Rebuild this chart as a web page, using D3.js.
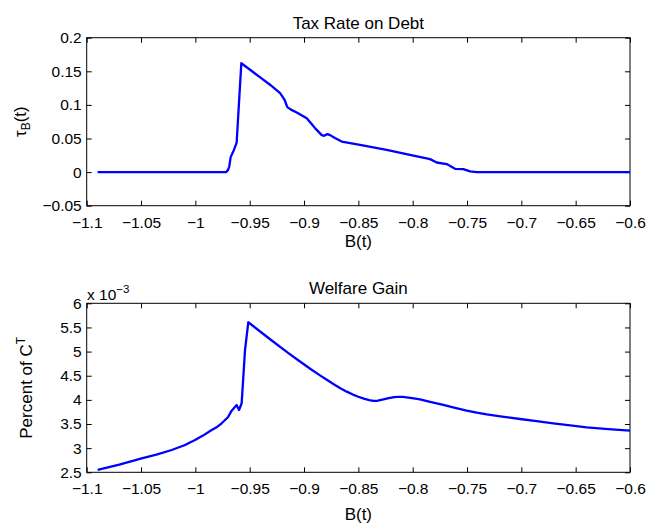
<!DOCTYPE html>
<html>
<head>
<meta charset="utf-8">
<script src="https://cdn.jsdelivr.net/npm/d3@7"></script>
<style>
  html, body { margin: 0; padding: 0; background: #fff; }
  svg { display: block; font-family: "Liberation Sans", Arial, Helvetica, sans-serif; }
  .tick text { font-size: 15.5px; fill: #000; }
  .tick line { stroke: #000; }
</style>
</head>
<body>
<svg id="chart" width="647" height="523"></svg>
<script>
// Debt level B(t) and the optimal tax rate on debt tau_B(t)
const debtB = [-1.09, -0.9718, -0.9700, -0.9688, -0.9675, -0.9645, -0.9620, -0.9577, -0.9500, -0.9400,
  -0.9313, -0.9220, -0.9180, -0.9154, -0.9120, -0.9067, -0.8975, -0.8899, -0.8837, -0.8815,
  -0.8785, -0.8760, -0.8715, -0.8653, -0.8485, -0.8240, -0.8025, -0.7840, -0.7779, -0.7687,
  -0.7610, -0.7534, -0.7472, -0.7410, -0.60];
const taxRate = [0, 0, 0.003, 0.0083, 0.0223, 0.033, 0.044, 0.162, 0.1527, 0.1405,
  0.130, 0.1175, 0.108, 0.0967, 0.093, 0.0887, 0.080, 0.0655, 0.055, 0.054,
  0.0565, 0.055, 0.0506, 0.0455, 0.0406, 0.0332, 0.0257, 0.0193, 0.0143, 0.0119,
  0.0049, 0.0045, 0.001, 0, 0];

// Welfare gain, percent of C^T (in units of 10^-3)
const welfareB = [-1.0899, -1.0700, -1.0494, -1.0350, -1.0218, -1.0100, -1.0003, -0.9930, -0.9850, -0.9800,
  -0.9758, -0.9700, -0.9666, -0.9620, -0.9598, -0.9574, -0.9543, -0.9513, -0.9300, -0.9150,
  -0.9037, -0.8940, -0.8853, -0.8790, -0.8730, -0.8670, -0.8607, -0.8550, -0.8500, -0.8450,
  -0.8400, -0.8362, -0.8320, -0.8270, -0.8220, -0.8170, -0.8132, -0.8090, -0.8040, -0.7990,
  -0.7933, -0.7830, -0.7718, -0.7610, -0.7503, -0.7410, -0.7319, -0.7160, -0.7012, -0.6860,
  -0.6706, -0.6550, -0.6399, -0.6200, -0.60];
const welfareGain = [2.548, 2.66, 2.79, 2.87, 2.962, 3.06, 3.169, 3.26, 3.376, 3.44,
  3.515, 3.64, 3.776, 3.894, 3.79, 3.93, 5.03, 5.607, 5.235, 4.98,
  4.795, 4.64, 4.508, 4.415, 4.33, 4.245, 4.17, 4.11, 4.065, 4.025,
  3.995, 3.978, 3.982, 4.008, 4.038, 4.058, 4.064, 4.06, 4.048, 4.032,
  4.012, 3.955, 3.894, 3.833, 3.776, 3.735, 3.701, 3.65, 3.604, 3.56,
  3.515, 3.472, 3.432, 3.395, 3.362];

// Tick values and labels
const xTicks = [-1.1, -1.05, -1, -0.95, -0.9, -0.85, -0.8, -0.75, -0.7, -0.65, -0.6];
const xTickLabels = ["\u22121.1", "\u22121.05", "\u22121", "\u22120.95", "\u22120.9", "\u22120.85",
  "\u22120.8", "\u22120.75", "\u22120.7", "\u22120.65", "\u22120.6"];
const taxTicks = [-0.05, 0, 0.05, 0.1, 0.15, 0.2];
const taxTickLabels = ["\u22120.05", "0", "0.05", "0.1", "0.15", "0.2"];
const welfareTicks = [2.5, 3, 3.5, 4, 4.5, 5, 5.5, 6];
const welfareTickLabels = ["2.5", "3", "3.5", "4", "4.5", "5", "5.5", "6"];

const svg = d3.select("#chart");
const left = 86.7, right = 630;

function panel(cfg) {
  const x = d3.scaleLinear().domain([-1.1, -0.6]).range([left, right]);
  const y = d3.scaleLinear().domain(cfg.yDomain).range([cfg.bottom, cfg.top]);
  const g = svg.append("g");
  const tk = 5;

  g.append("g").attr("transform", `translate(0,${cfg.bottom})`)
    .call(d3.axisBottom(x).tickValues(xTicks).tickSizeInner(-tk).tickSizeOuter(0).tickPadding(11)
      .tickFormat((d, i) => xTickLabels[i]))
    .call(a => a.select(".domain").remove());
  g.append("g").attr("transform", `translate(0,${cfg.top})`)
    .call(d3.axisTop(x).tickValues(xTicks).tickSizeInner(-tk).tickSizeOuter(0).tickFormat(""))
    .call(a => a.select(".domain").remove());
  g.append("g").attr("transform", `translate(${left},0)`)
    .call(d3.axisLeft(y).tickValues(cfg.yTicks).tickSizeInner(-tk).tickSizeOuter(0).tickPadding(5)
      .tickFormat((d, i) => cfg.yLabels[i]))
    .call(a => a.select(".domain").remove());
  g.append("g").attr("transform", `translate(${right},0)`)
    .call(d3.axisRight(y).tickValues(cfg.yTicks).tickSizeInner(-tk).tickSizeOuter(0).tickFormat(""))
    .call(a => a.select(".domain").remove());

  g.append("rect")
    .attr("x", left).attr("y", cfg.top)
    .attr("width", right - left).attr("height", cfg.bottom - cfg.top)
    .attr("fill", "none").attr("stroke", "#000").attr("stroke-width", 1);

  const line = d3.line().x(d => x(d[0])).y(d => y(d[1]));
  g.append("path")
    .datum(cfg.xs.map((v, i) => [v, cfg.ys[i]]))
    .attr("d", line)
    .attr("fill", "none")
    .attr("stroke", "#0000ff")
    .attr("stroke-width", 2.3)
    .attr("stroke-linejoin", "round");

  g.append("text")
    .attr("x", (left + right) / 2).attr("y", cfg.titleY)
    .attr("text-anchor", "middle").attr("font-size", 17)
    .text(cfg.title);

  g.append("text")
    .attr("x", (left + right) / 2).attr("y", cfg.xLabelY)
    .attr("text-anchor", "middle").attr("font-size", 17)
    .text("B(t)");
  return g;
}

panel({
  top: 37.7, bottom: 205.7, yDomain: [-0.05, 0.2],
  yTicks: taxTicks, yLabels: taxTickLabels,
  xs: debtB, ys: taxRate,
  title: "Tax Rate on Debt", titleY: 28.5, xLabelY: 247
});

panel({
  top: 303.3, bottom: 472.3, yDomain: [2.5, 6],
  yTicks: welfareTicks, yLabels: welfareTickLabels,
  xs: welfareB, ys: welfareGain,
  title: "Welfare Gain", titleY: 294, xLabelY: 520
});

// y-axis labels
const yl1 = svg.append("text")
  .attr("transform", "translate(25.5,121.7) rotate(-90)")
  .attr("text-anchor", "middle").attr("font-size", 17);
yl1.append("tspan").text("\u03c4");
yl1.append("tspan").attr("font-size", 12).attr("dy", 4).text("B");
yl1.append("tspan").attr("dy", -4).text("(t)");

const yl2 = svg.append("text")
  .attr("transform", "translate(31.5,387.8) rotate(-90)")
  .attr("text-anchor", "middle").attr("font-size", 17);
yl2.append("tspan").text("Percent of C");
yl2.append("tspan").attr("font-size", 12).attr("dy", -7).text("T");

// axis multiplier
const mult = svg.append("text")
  .attr("x", 87).attr("y", 299.5).attr("font-size", 15.5);
mult.append("tspan").text("x 10");
mult.append("tspan").attr("font-size", 11.5).attr("dy", -7).text("\u22123");
</script>
</body>
</html>
